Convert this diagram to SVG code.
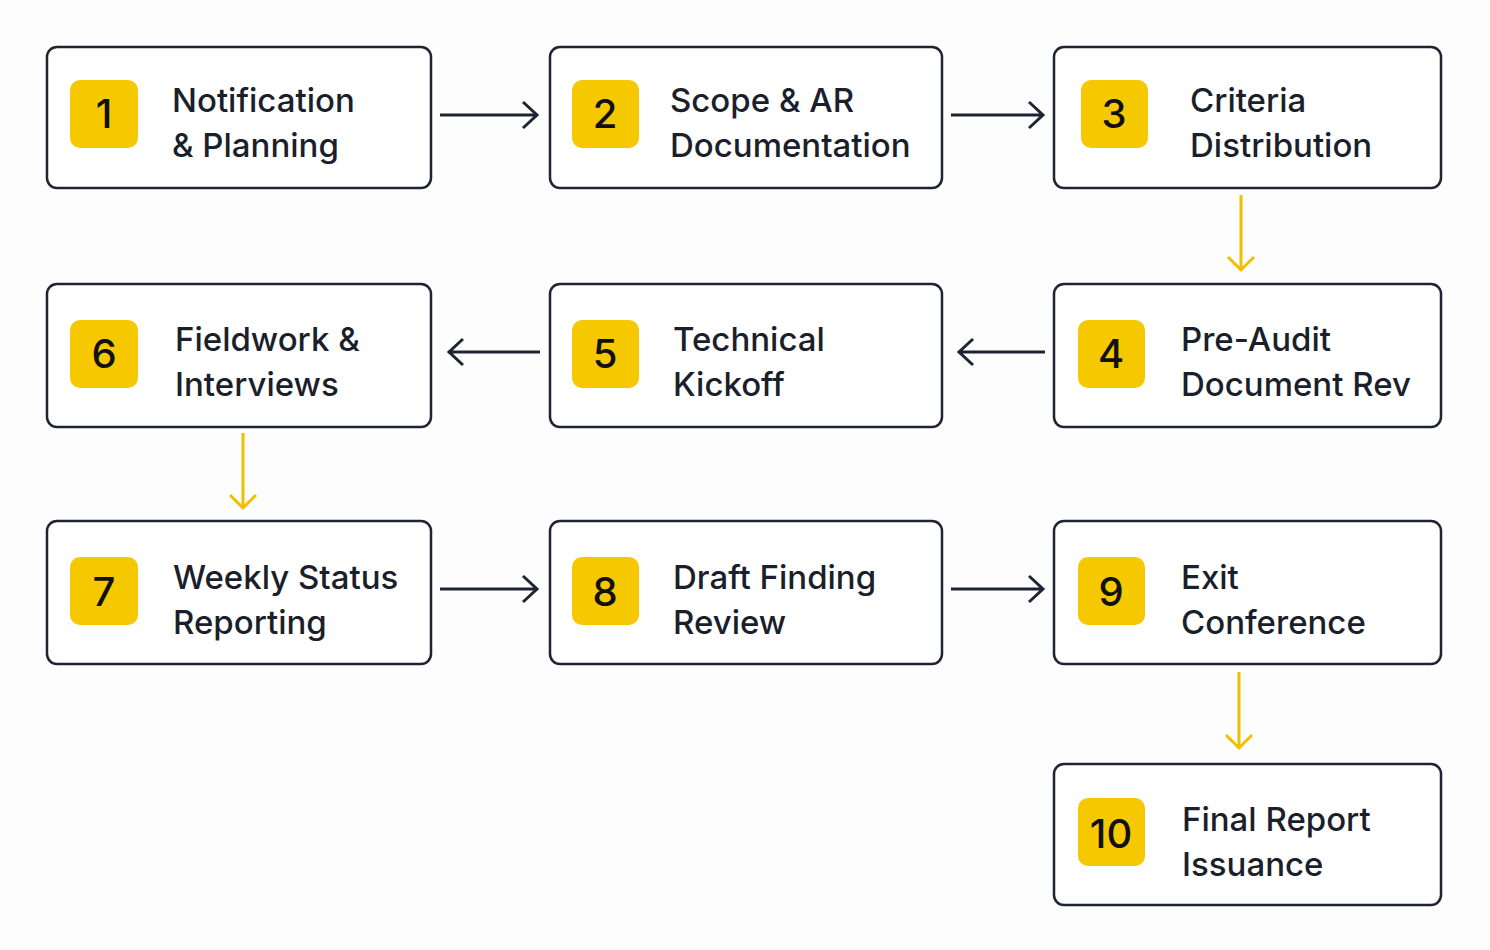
<svg xmlns="http://www.w3.org/2000/svg" width="1490" height="950" viewBox="0 0 1490 950">
<style>
.box{fill:#fff;stroke:#1e2433;stroke-width:2.5}
.badge{fill:#f5c800}
.num{font-family:"Inter","Liberation Sans",sans-serif;font-size:40px;font-weight:500;fill:#111;text-anchor:middle}
.lbl{font-family:"Inter","Liberation Sans",sans-serif;font-size:33px;font-weight:500;fill:#1a1f2b}
.dk{stroke:#1e2433;stroke-width:3;fill:none}
.yl{stroke:#f0c000;stroke-width:3;fill:none}
</style>
<rect width="1490" height="950" fill="#fdfdfd"/>
<g id="connectors">
<path class="dk" d="M440 115H536M523 102L537 115L523 128"/>
<path class="dk" d="M951 115H1042M1029 102L1043 115L1029 128"/>
<path class="yl" d="M1241 195V270M1228 257L1241 270L1254 257"/>
<path class="dk" d="M1045 352H960M973 339L959 352L973 365"/>
<path class="dk" d="M540 352H450M463 339L449 352L463 365"/>
<path class="yl" d="M243 433V508M230 495L243 508L256 495"/>
<path class="dk" d="M440 589H536M523 576L537 589L523 602"/>
<path class="dk" d="M951 589H1042M1029 576L1043 589L1029 602"/>
<path class="yl" d="M1239 672V748M1226 735L1239 748L1252 735"/>
</g>
<g id="n1"><rect class="box" x="47" y="47" width="384" height="141" rx="10"/><rect class="badge" x="70" y="80" width="68" height="68" rx="10"/><text class="num" x="104" y="128">1</text><text class="lbl" x="172" y="112">Notification</text><text class="lbl" x="172" y="157">&amp; Planning</text></g>
<g id="n2"><rect class="box" x="550" y="47" width="392" height="141" rx="10"/><rect class="badge" x="572" y="80" width="67" height="68" rx="10"/><text class="num" x="605" y="128">2</text><text class="lbl" x="670" y="112">Scope &amp; AR</text><text class="lbl" x="670" y="157">Documentation</text></g>
<g id="n3"><rect class="box" x="1054" y="47" width="387" height="141" rx="10"/><rect class="badge" x="1081" y="80" width="67" height="68" rx="10"/><text class="num" x="1114" y="128">3</text><text class="lbl" x="1190" y="112">Criteria</text><text class="lbl" x="1190" y="157">Distribution</text></g>
<g id="n4"><rect class="box" x="1054" y="284" width="387" height="143" rx="10"/><rect class="badge" x="1078" y="320" width="67" height="68" rx="10"/><text class="num" x="1111" y="368">4</text><text class="lbl" x="1181" y="351">Pre-Audit</text><text class="lbl" x="1181" y="396">Document Rev</text></g>
<g id="n5"><rect class="box" x="550" y="284" width="392" height="143" rx="10"/><rect class="badge" x="572" y="320" width="67" height="68" rx="10"/><text class="num" x="605" y="368">5</text><text class="lbl" x="673" y="351">Technical</text><text class="lbl" x="673" y="396">Kickoff</text></g>
<g id="n6"><rect class="box" x="47" y="284" width="384" height="143" rx="10"/><rect class="badge" x="70" y="320" width="68" height="68" rx="10"/><text class="num" x="104" y="368">6</text><text class="lbl" x="175" y="351">Fieldwork &amp;</text><text class="lbl" x="175" y="396">Interviews</text></g>
<g id="n7"><rect class="box" x="47" y="521" width="384" height="143" rx="10"/><rect class="badge" x="70" y="557" width="68" height="68" rx="10"/><text class="num" x="104" y="606">7</text><text class="lbl" x="173" y="589">Weekly Status</text><text class="lbl" x="173" y="634">Reporting</text></g>
<g id="n8"><rect class="box" x="550" y="521" width="392" height="143" rx="10"/><rect class="badge" x="572" y="557" width="67" height="68" rx="10"/><text class="num" x="605" y="606">8</text><text class="lbl" x="673" y="589">Draft Finding</text><text class="lbl" x="673" y="634">Review</text></g>
<g id="n9"><rect class="box" x="1054" y="521" width="387" height="143" rx="10"/><rect class="badge" x="1078" y="557" width="67" height="68" rx="10"/><text class="num" x="1111" y="606">9</text><text class="lbl" x="1181" y="589">Exit</text><text class="lbl" x="1181" y="634">Conference</text></g>
<g id="n10"><rect class="box" x="1054" y="764" width="387" height="141" rx="10"/><rect class="badge" x="1078" y="798" width="67" height="68" rx="10"/><text class="num" x="1111" y="848">10</text><text class="lbl" x="1182" y="831">Final Report</text><text class="lbl" x="1182" y="876">Issuance</text></g>
</svg>
